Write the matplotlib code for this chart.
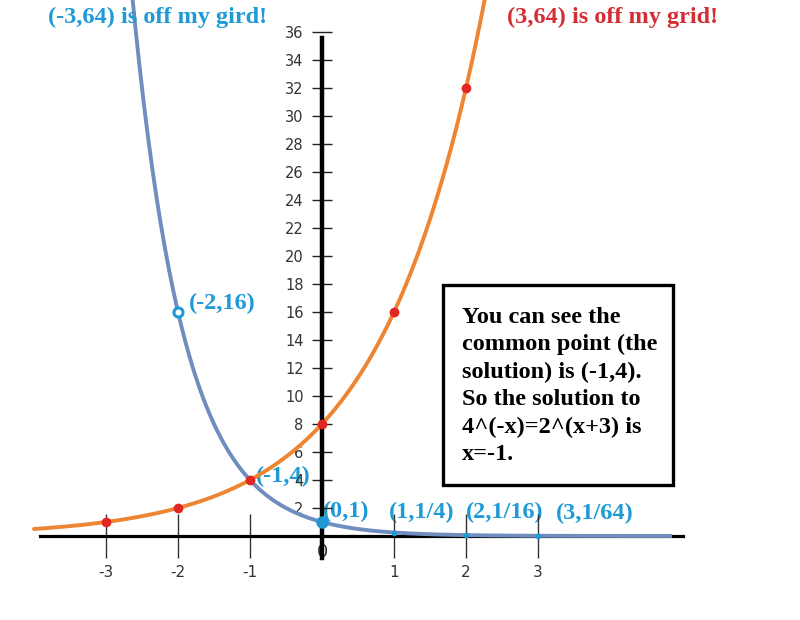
import matplotlib
matplotlib.use('Agg')
import matplotlib.pyplot as plt
import numpy as np
from matplotlib.patches import Rectangle

# ---------------- data ----------------
orange_pts_x = [-3, -2, -1, 0, 1, 2]
orange_pts_y = [1, 2, 4, 8, 16, 32]          # 2^(x+3)
blue_ring_x, blue_ring_y = [-2], [16]        # 4^(-x)
blue_big_x, blue_big_y = [0], [1]
blue_small_x = [1, 2, 3]
blue_small_y = [1/4, 1/16, 1/64]
label_x = [-2, -1, 0, 1, 2, 3]
label_y = [16, 4, 1, 1/4, 1/16, 1/64]
point_labels = ["(-2,16)", "(-1,4)", "(0,1)", "(1,1/4)", "(2,1/16)", "(3,1/64)"]
ytick_vals = list(range(2, 37, 2))
xtick_vals = [-3, -2, -1, 1, 2, 3]
xtick_labels = ["-3", "-2", "-1", "1", "2", "3"]
title_blue = "(-3,64) is off my gird!"
title_red = "(3,64) is off my grid!"
box_lines = ["You can see the", "common point (the", "solution) is (-1,4).",
             "So the solution to", "4^(-x)=2^(x+3) is", "x=-1."]

# ---------------- style ----------------
CYAN = '#1E9AD6'
RED_TXT = '#D62D35'
ORANGE = '#EE8533'
BLUE = '#6F8DBF'
RED_PT = '#E3261F'
SERIF = dict(family='Liberation Serif', weight='bold', size=17.5)
label_offsets = [(11, 3), (6, -2), (1, 5), (-5, 14), (0, 17), (18, 17)]

fig = plt.figure(figsize=(8, 6.2), dpi=100)
ax = fig.add_axes([0, 0, 1, 1])
ax.set_xlim(-4.472, 6.639)
ax.set_ylim(-6.0, 38.286)
ax.patch.set_alpha(0)

# axes through origin
for s in ['top', 'right']:
    ax.spines[s].set_visible(False)
ax.spines['left'].set_position('zero')
ax.spines['bottom'].set_position('zero')
ax.spines['left'].set_bounds(-1.57, 35.6)
ax.spines['bottom'].set_bounds(-3.92, 5.01)
ax.spines['left'].set_linewidth(3.2)
ax.spines['bottom'].set_linewidth(2.3)

ax.set_yticks(ytick_vals)
ax.set_yticklabels([str(v) for v in ytick_vals])
ax.tick_params(axis='y', direction='inout', length=14.4, width=1.0,
               color='#222222', pad=6.0, labelsize=10.5, labelcolor='#333333')
ax.set_xticks(xtick_vals)
ax.set_xticklabels(xtick_labels)
ax.tick_params(axis='x', direction='inout', length=32, width=1.0,
               color='#333333', pad=5, labelsize=11, labelcolor='#333333')

# curves
xo = np.linspace(-4.0, 2.4, 400)
ax.plot(xo, 2.0 ** (xo + 3), color=ORANGE, lw=2.8, zorder=2, solid_capstyle='round')
xb = np.linspace(-2.8, 4.86, 400)
ax.plot(xb, 4.0 ** (-xb), color=BLUE, lw=2.8, zorder=3, solid_capstyle='butt')

# points
ax.plot(orange_pts_x, orange_pts_y, 'o', color=RED_PT, ms=6, zorder=5)
ax.plot(blue_ring_x, blue_ring_y, 'o', mfc='white', mec=CYAN, mew=2.2, ms=6.5, zorder=5)
ax.plot(blue_big_x, blue_big_y, 'o', color=CYAN, ms=8, zorder=5)
ax.plot(blue_small_x, blue_small_y, 'o', color=CYAN, ms=3, zorder=5)

# point labels
for lx, ly, txt, off in zip(label_x, label_y, point_labels, label_offsets):
    ax.annotate(txt, xy=(lx, ly), xytext=off, textcoords='offset pixels',
                ha='left', va='baseline', color=CYAN, zorder=1.5, **SERIF)

# origin label
ax.annotate("0", xy=(0, 0), xytext=(1, -16), textcoords='offset pixels',
            ha='center', va='center', fontsize=13, color='#333333', zorder=1)

# top notes
fig.text(48 / 800, 1 - 23 / 620, title_blue, color=CYAN, ha='left', va='baseline', **SERIF)
fig.text(507 / 800, 1 - 23 / 620, title_red, color=RED_TXT, ha='left', va='baseline', **SERIF)

# explanation box
ax.add_patch(Rectangle((443 / 800, 1 - 485 / 620), 230 / 800, 200 / 620,
                       transform=ax.transAxes, fill=False, ec='black', lw=2.4, zorder=6))
for i, line in enumerate(box_lines):
    ax.text(462 / 800, 1 - (323 + i * 27.4) / 620, line, transform=ax.transAxes,
            ha='left', va='baseline', color='black', zorder=6, **SERIF)

fig.savefig('out.png', dpi=100)
